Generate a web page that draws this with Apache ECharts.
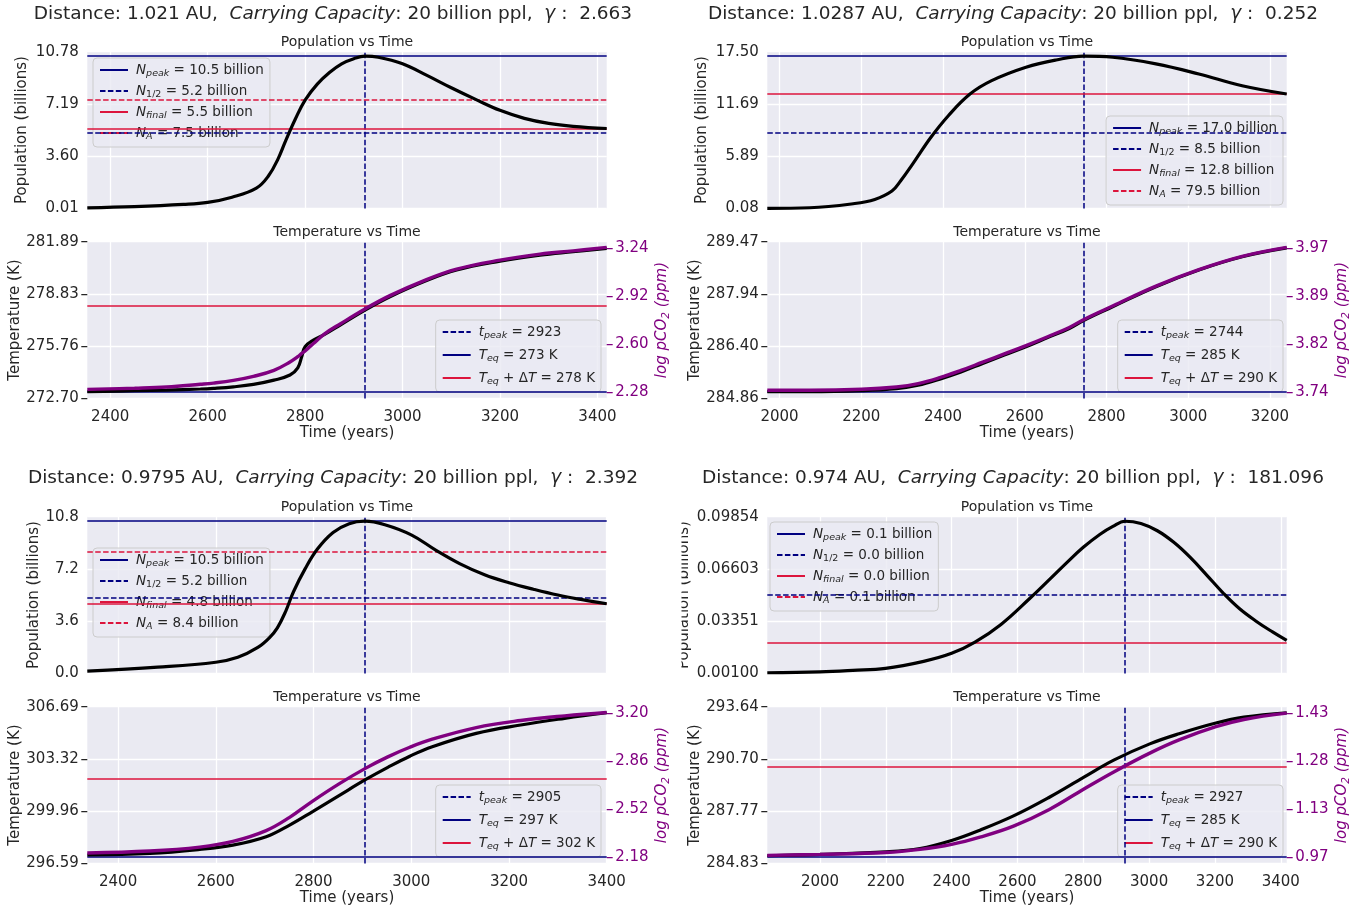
<!DOCTYPE html>
<html>
<head>
<meta charset="utf-8">
<script src="https://cdn.jsdelivr.net/npm/echarts@6/dist/echarts.min.js"></script>
<style>html,body{margin:0;padding:0;background:#fff}#chart{width:1359px;height:910px}</style>
</head>
<body>
<div id="chart"></div>
<script>
// ---------------- DATA ----------------
const distances = ['1.021', '1.0287', '0.9795', '0.974'];
const gammas = ['2.663', '0.252', '2.392', '181.096'];

// Top-left panel
const tlXRange = [2353, 3419];
const tlXTicks = [2400, 2600, 2800, 3000, 3200, 3400];
const tlPopTicks = [0.01, 3.60, 7.19, 10.78];
const tlPopT = [2353, 2450, 2550, 2600, 2650, 2700, 2725, 2745, 2760, 2780, 2800, 2825, 2850, 2875, 2900, 2923, 2950, 3000, 3050, 3100, 3150, 3200, 3250, 3300, 3350, 3419];
const tlPopN = [0.05, 0.13, 0.28, 0.42, 0.78, 1.4, 2.25, 3.45, 4.65, 6.15, 7.45, 8.55, 9.35, 9.95, 10.3, 10.47, 10.4, 9.95, 9.15, 8.3, 7.5, 6.75, 6.2, 5.85, 5.65, 5.5];
const tlLevels = [10.47, 5.23, 5.5, 7.5]; // N_peak, N_1/2, N_final, N_A
const tlTempTicks = [272.70, 275.763, 278.827, 281.89];
const tlCO2Ticks = [2.28, 2.60, 2.92, 3.24];
const tlTempT = [2353, 2450, 2516, 2585, 2612, 2653, 2694, 2736, 2769, 2785, 2793, 2800, 2817, 2840, 2872, 2923, 2974, 3043, 3111, 3200, 3282, 3350, 3419];
const tlTempK = [273.09, 273.15, 273.19, 273.25, 273.29, 273.38, 273.52, 273.77, 274.07, 274.49, 275.14, 275.73, 276.12, 276.45, 277.0, 277.88, 278.66, 279.54, 280.23, 280.75, 281.10, 281.30, 281.50];
const tlCO2 = [2.297, 2.305, 2.313, 2.331, 2.339, 2.357, 2.384, 2.424, 2.48, 2.515, 2.537, 2.553, 2.603, 2.668, 2.734, 2.834, 2.923, 3.022, 3.100, 3.160, 3.200, 3.222, 3.245];
const tlTpeak = 2923, tlTeq = 273.09, tlTeqDT = 278.13;

// Top-right panel
const trXRange = [1970, 3241];
const trXTicks = [2000, 2200, 2400, 2600, 2800, 3000, 3200];
const trPopTicks = [0.08, 5.8867, 11.6933, 17.50];
const trPopT = [1970, 2074, 2180, 2233, 2275, 2296, 2328, 2370, 2413, 2466, 2519, 2603, 2677, 2744, 2815, 2921, 3026, 3132, 3241];
const trPopN = [0.08, 0.15, 0.6, 1.08, 2.01, 3.13, 5.17, 7.96, 10.38, 12.79, 14.28, 15.77, 16.58, 17.0, 16.88, 16.14, 15.02, 13.72, 12.8];
const trLevels = [17.0, 8.5, 12.8, 79.5];
const trTempTicks = [284.862, 286.399, 287.936, 289.473];
const trCO2Ticks = [3.74, 3.8167, 3.8933, 3.97];
const trTempT = [1970, 2074, 2201, 2286, 2339, 2392, 2444, 2497, 2550, 2603, 2656, 2709, 2746, 2815, 2921, 3026, 3132, 3241];
const trTempK = [285.06, 285.06, 285.09, 285.15, 285.25, 285.43, 285.64, 285.89, 286.14, 286.38, 286.65, 286.92, 287.17, 287.56, 288.15, 288.64, 289.03, 289.29];
const trCO2 = [3.7426, 3.7426, 3.7442, 3.7479, 3.7532, 3.7627, 3.7744, 3.7876, 3.8008, 3.8141, 3.8283, 3.8432, 3.8564, 3.8775, 3.9093, 3.9357, 3.9569, 3.9712];
const trTpeak = 2744, trTeq = 285.06, trTeqDT = 290.11;

// Bottom-left panel
const blXRange = [2337, 3400];
const blXTicks = [2400, 2600, 2800, 3000, 3200, 3400];
const blPopTicks = [0.0, 3.6, 7.2, 10.8];
const blPopT = [2337, 2481, 2600, 2645, 2686, 2710, 2726, 2743, 2759, 2783, 2808, 2840, 2873, 2905, 2946, 3000, 3050, 3100, 3150, 3200, 3250, 3300, 3350, 3400];
const blPopN = [0.16, 0.43, 0.77, 1.11, 1.79, 2.47, 3.14, 4.28, 5.63, 7.22, 8.57, 9.71, 10.32, 10.49, 10.25, 9.55, 8.5, 7.55, 6.8, 6.25, 5.8, 5.4, 5.08, 4.8];
const blLevels = [10.49, 5.24, 4.8, 8.4];
const blTempTicks = [296.59, 299.957, 303.323, 306.69];
const blCO2Ticks = [2.18, 2.52, 2.86, 3.20];
const blTempT = [2337, 2465, 2567, 2635, 2703, 2751, 2799, 2853, 2907, 2952, 2997, 3043, 3133, 3224, 3314, 3400];
const blTempK = [297.13, 297.23, 297.49, 297.77, 298.31, 299.06, 299.95, 300.98, 302.0, 302.78, 303.5, 304.11, 304.97, 305.51, 305.94, 306.30];
const blCO2 = [2.208, 2.222, 2.250, 2.290, 2.367, 2.461, 2.578, 2.700, 2.810, 2.890, 2.958, 3.015, 3.098, 3.148, 3.181, 3.205];
const blTpeak = 2905, blTeq = 297.02, blTeqDT = 302.07;

// Bottom-right panel
const brXRange = [1840, 3418];
const brXTicks = [2000, 2200, 2400, 2600, 2800, 3000, 3200, 3400];
const brPopTicks = [0.00100, 0.033513, 0.066027, 0.09854];
const brPopT = [1840, 2000, 2100, 2199, 2315, 2400, 2471, 2550, 2638, 2700, 2750, 2800, 2850, 2890, 2927, 2975, 3025, 3075, 3125, 3175, 3225, 3275, 3325, 3375, 3418];
const brPopN = [0.0014, 0.002, 0.0029, 0.0041, 0.0085, 0.0135, 0.0205, 0.0315, 0.0478, 0.06, 0.07, 0.0795, 0.0875, 0.0925, 0.0957, 0.0943, 0.0898, 0.0826, 0.0732, 0.0622, 0.051, 0.0412, 0.0335, 0.0268, 0.0215];
const brLevels = [0.0957, 0.0478, 0.0215, 0.1];
const brTempTicks = [284.83, 287.7667, 290.7033, 293.64];
const brCO2Ticks = [0.973, 1.1253, 1.2777, 1.430];
const brTempT = [1840, 2000, 2200, 2304, 2400, 2486, 2588, 2697, 2802, 2894, 3002, 3091, 3203, 3288, 3418];
const brTempK = [285.26, 285.34, 285.48, 285.67, 286.12, 286.70, 287.50, 288.55, 289.68, 290.65, 291.55, 292.12, 292.72, 293.05, 293.30];
const brCO2 = [0.978, 0.981, 0.987, 0.997, 1.013, 1.036, 1.071, 1.124, 1.189, 1.244, 1.303, 1.345, 1.387, 1.410, 1.430];
const brTpeak = 2927, brTeq = 285.20, brTeqDT = 290.27;

// ---------------- STYLE / LAYOUT ----------------
const FONT = 'DejaVu Sans';
const INK = '#262626';
const NAVY = '#000080', CRIMSON = '#DC143C', PURPLE = '#800080';
const DASH = [5.5, 2.4];
const BG = '#EAEAF2';
const GW = 519.4, GH = 156.7;
const COLS = [87.3, 767.3];
const POP_TOP = [51.7, 516.7];
const TEMP_TOP = [241.7, 706.7];
const SUP_X = [333, 1013];
const SUP_Y = [14, 478];
const W = 1359;

const panels = [
  {id:'tl', col:0, row:0, xRange:tlXRange, xTicks:tlXTicks, popTicks:tlPopTicks, popDec:2, popT:tlPopT, popN:tlPopN, levels:tlLevels,
   tempTicks:tlTempTicks, co2Ticks:tlCO2Ticks, tempT:tlTempT, tempK:tlTempK, co2:tlCO2, tpeak:tlTpeak, Teq:tlTeq, TeqDT:tlTeqDT,
   popNameGap:57.3, popLegend:{left:93, top:58}, tempLegend:{right:W-601, top:320}},
  {id:'tr', col:1, row:0, xRange:trXRange, xTicks:trXTicks, popTicks:trPopTicks, popDec:2, popT:trPopT, popN:trPopN, levels:trLevels,
   tempTicks:trTempTicks, co2Ticks:trCO2Ticks, tempT:trTempT, tempK:trTempK, co2:trCO2, tpeak:trTpeak, Teq:trTeq, TeqDT:trTeqDT,
   popNameGap:57.3, popLegend:{right:W-1283, top:116}, tempLegend:{right:W-1283, top:320}},
  {id:'bl', col:0, row:1, xRange:blXRange, xTicks:blXTicks, popTicks:blPopTicks, popDec:1, popT:blPopT, popN:blPopN, levels:blLevels,
   tempTicks:blTempTicks, co2Ticks:blCO2Ticks, tempT:blTempT, tempK:blTempK, co2:blCO2, tpeak:blTpeak, Teq:blTeq, TeqDT:blTeqDT,
   popNameGap:44.8, popLegend:{left:93, top:548}, tempLegend:{right:W-601, top:785}},
  {id:'br', col:1, row:1, xRange:brXRange, xTicks:brXTicks, popTicks:brPopTicks, popDec:5, popT:brPopT, popN:brPopN, levels:brLevels,
   tempTicks:brTempTicks, co2Ticks:brCO2Ticks, tempT:brTempT, tempK:brTempK, co2:brCO2, tpeak:brTpeak, Teq:brTeq, TeqDT:brTeqDT,
   popNameGap:75.3, popLegend:{left:770, top:522}, tempLegend:{right:W-1283, top:785}}
];

const zip = (a, b) => a.map((v, i) => [v, b[i]]);
const labelText = {};
const grid = [], xAxis = [], yAxis = [], series = [], legend = [], graphic = [];

const legendRich = {
  n: {fontSize: 13.5, fontFamily: FONT, color: INK},
  i: {fontSize: 13.5, fontFamily: FONT, color: INK, fontStyle: 'italic'},
  s: {fontSize: 9.5, fontFamily: FONT, color: INK, fontStyle: 'italic', padding: [8, 0, 0, 0]},
  u: {fontSize: 9.5, fontFamily: FONT, color: INK, padding: [8, 0, 0, 0]}
};

function hlineSeries(name, xi, yi, value, color, type, range, z) {
  const inRange = value >= range[0] && value <= range[1];
  return {
    type: 'line', name, xAxisIndex: xi, yAxisIndex: yi, data: [], symbol: 'none', silent: true, z,
    lineStyle: {color, width: 1.5, type},
    itemStyle: {color},
    markLine: inRange ? {silent: true, symbol: ['none', 'none'], label: {show: false}, animation: false,
      lineStyle: {color, width: 1.5, type}, emphasis: {disabled: true}, data: [{yAxis: value}]} : undefined
  };
}

const SMOOTH = 0.4;

panels.forEach((p, i) => {
  const left = COLS[p.col];
  const gP = 2 * i, gT = 2 * i + 1;
  const yP = 3 * i, yT = 3 * i + 1, yC = 3 * i + 2;
  grid.push({left, top: POP_TOP[p.row], width: GW, height: GH, show: true, backgroundColor: BG, borderWidth: 0, outerBoundsMode: 'none'});
  grid.push({left, top: TEMP_TOP[p.row], width: GW, height: GH, show: true, backgroundColor: BG, borderWidth: 0, outerBoundsMode: 'none'});

  [gP, gT].forEach((g, k) => {
    xAxis.push({
      type: 'value', gridIndex: g, min: p.xRange[0], max: p.xRange[1],
      axisLine: {show: false},
      axisTick: {show: false, customValues: p.xTicks},
      axisLabel: {show: k === 1, customValues: p.xTicks, formatter: v => String(Math.round(v)),
        color: INK, fontSize: 15, fontFamily: FONT, margin: 11.5},
      splitLine: {show: true, lineStyle: {color: '#ffffff', width: 1.3}},
      name: k === 1 ? 'Time (years)' : '', nameLocation: 'middle', nameGap: 27,
      nameTextStyle: {color: INK, fontSize: 15, fontFamily: FONT}
    });
  });

  const pt = p.popTicks;
  yAxis.push({
    type: 'value', gridIndex: gP, min: pt[0], max: pt[3],
    axisLine: {show: false},
    axisTick: {show: false, customValues: pt},
    axisLabel: {customValues: pt, formatter: v => v.toFixed(p.popDec), color: INK, fontSize: 15, fontFamily: FONT, margin: 8.5},
    splitLine: {show: true, lineStyle: {color: '#ffffff', width: 1.3}},
    name: 'Population (billions)', nameLocation: 'middle', nameGap: p.popNameGap, nameRotate: 90,
    nameTextStyle: {color: INK, fontSize: 15, fontFamily: FONT}
  });
  const tt = p.tempTicks;
  yAxis.push({
    type: 'value', gridIndex: gT, min: tt[0], max: tt[3],
    axisLine: {show: false},
    axisTick: {show: true, length: 6, lineStyle: {color: INK, width: 1.25}, customValues: tt},
    axisLabel: {customValues: tt, formatter: v => v.toFixed(2), color: INK, fontSize: 15, fontFamily: FONT, margin: 8.5},
    splitLine: {show: true, lineStyle: {color: '#ffffff', width: 1.3}},
    name: 'Temperature (K)', nameLocation: 'middle', nameGap: 64.8, nameRotate: 90,
    nameTextStyle: {color: INK, fontSize: 15, fontFamily: FONT}
  });
  const ct = p.co2Ticks;
  const m = 0.045 * (ct[3] - ct[0]);
  yAxis.push({
    type: 'value', gridIndex: gT, position: 'right', min: ct[0] - m, max: ct[3] + m,
    axisLine: {show: false},
    axisTick: {show: true, length: 6, lineStyle: {color: PURPLE, width: 1.25}, customValues: ct},
    axisLabel: {customValues: ct, formatter: v => v.toFixed(2), color: PURPLE, fontSize: 15, fontFamily: FONT, margin: 8.5},
    splitLine: {show: false},
    name: '{a|log pCO}{b|2}{a| (ppm)}', nameLocation: 'middle', nameGap: 45.8, nameRotate: 90,
    nameTextStyle: {color: PURPLE, fontSize: 15, fontFamily: FONT, fontStyle: 'italic',
      rich: {a: {color: PURPLE, fontSize: 15, fontFamily: FONT, fontStyle: 'italic'},
             b: {color: PURPLE, fontSize: 10.5, fontFamily: FONT, padding: [8, 0, 0, 0]}}}
  });

  // population curve + t_peak vertical
  series.push({
    type: 'line', name: p.id + '_pop', xAxisIndex: gP, yAxisIndex: yP, data: zip(p.popT, p.popN),
    symbol: 'none', smooth: SMOOTH, silent: true, z: 5,
    lineStyle: {color: '#000000', width: 3.2},
    markLine: {silent: true, symbol: ['none', 'none'], label: {show: false}, animation: false,
      lineStyle: {color: NAVY, width: 1.5, type: DASH}, data: [{xAxis: p.tpeak}]}
  });
  const L = p.levels;
  const names = ['Npeak', 'Nhalf', 'Nfinal', 'NA'].map(s => p.id + '_' + s);
  labelText[names[0]] = `{i|N}{s|peak}{n| = ${L[0].toFixed(1)} billion}`;
  labelText[names[1]] = `{i|N}{u|1/2}{n| = ${L[1].toFixed(1)} billion}`;
  labelText[names[2]] = `{i|N}{s|final}{n| = ${L[2].toFixed(1)} billion}`;
  labelText[names[3]] = `{i|N}{s|A}{n| = ${L[3].toFixed(1)} billion}`;
  series.push(hlineSeries(names[0], gP, yP, L[0], NAVY, 'solid', [pt[0], pt[3]], 3));
  series.push(hlineSeries(names[1], gP, yP, L[1], NAVY, DASH, [pt[0], pt[3]], 3));
  series.push(hlineSeries(names[2], gP, yP, L[2], CRIMSON, 'solid', [pt[0], pt[3]], 3));
  series.push(hlineSeries(names[3], gP, yP, L[3], CRIMSON, DASH, [pt[0], pt[3]], 3));

  // temperature + CO2 curves
  series.push({
    type: 'line', name: p.id + '_T', xAxisIndex: gT, yAxisIndex: yT, data: zip(p.tempT, p.tempK),
    symbol: 'none', smooth: SMOOTH, silent: true, z: 5,
    lineStyle: {color: '#000000', width: 3.2}
  });
  series.push({
    type: 'line', name: p.id + '_co2', xAxisIndex: gT, yAxisIndex: yC, data: zip(p.tempT, p.co2),
    symbol: 'none', smooth: SMOOTH, silent: true, z: 6,
    lineStyle: {color: PURPLE, width: 3.4}
  });
  const tn = ['tpeak', 'Teq', 'TeqDT'].map(s => p.id + '_' + s);
  labelText[tn[0]] = `{i|t}{s|peak}{n| = ${p.tpeak}}`;
  labelText[tn[1]] = `{i|T}{s|eq}{n| = ${Math.round(p.Teq)} K}`;
  labelText[tn[2]] = `{i|T}{s|eq}{n| + Δ}{i|T}{n| = ${Math.round(p.TeqDT)} K}`;
  series.push({
    type: 'line', name: tn[0], xAxisIndex: gT, yAxisIndex: yT, data: [], symbol: 'none', silent: true, z: 3,
    lineStyle: {color: NAVY, width: 1.5, type: DASH}, itemStyle: {color: NAVY},
    markLine: {silent: true, symbol: ['none', 'none'], label: {show: false}, animation: false,
      lineStyle: {color: NAVY, width: 1.5, type: DASH}, data: [{xAxis: p.tpeak}]}
  });
  series.push(hlineSeries(tn[1], gT, yT, p.Teq, NAVY, 'solid', [tt[0], tt[3]], 3));
  series.push(hlineSeries(tn[2], gT, yT, p.TeqDT, CRIMSON, 'solid', [tt[0], tt[3]], 3));

  const legendBase = {
    orient: 'vertical', selectedMode: false, itemWidth: 28, itemHeight: 14,
    padding: [5, 6, 5, 6], backgroundColor: 'rgba(234,234,242,0.8)', borderColor: '#cccccc', borderWidth: 1, borderRadius: 4,
    itemStyle: {opacity: 0, color: 'rgba(0,0,0,0)', borderWidth: 0},
    formatter: name => labelText[name],
    textStyle: {color: INK, fontSize: 13.5, fontFamily: FONT, padding: [0, 0, 0, 3], rich: legendRich}
  };
  legend.push(Object.assign({}, legendBase, p.popLegend, {data: names, itemGap: 5}));
  legend.push(Object.assign({}, legendBase, p.tempLegend, {data: tn, itemGap: 7}));

  // titles
  graphic.push({
    type: 'text', silent: true,
    style: {x: SUP_X[p.col], y: SUP_Y[p.row], align: 'center', verticalAlign: 'middle', textAlign: 'center', textVerticalAlign: 'middle',
      text: `{n|Distance: ${distances[i]} AU,  }{i|Carrying Capacity}{n|: 20 billion ppl,  }{i|γ}{n| :  ${gammas[i]}}`,
      rich: {n: {fontSize: 18.5, fontFamily: FONT, fill: INK, color: INK}, i: {fontSize: 18.5, fontFamily: FONT, fill: INK, color: INK, fontStyle: 'italic'}}}
  });
  graphic.push({
    type: 'text', silent: true,
    style: {x: left + GW / 2, y: POP_TOP[p.row] - 9.5, align: 'center', verticalAlign: 'middle', textAlign: 'center', textVerticalAlign: 'middle',
      text: 'Population vs Time', fontSize: 14, fontFamily: FONT, fill: INK}
  });
  graphic.push({
    type: 'text', silent: true,
    style: {x: left + GW / 2, y: TEMP_TOP[p.row] - 9, align: 'center', verticalAlign: 'middle', textAlign: 'center', textVerticalAlign: 'middle',
      text: 'Temperature vs Time', fontSize: 14, fontFamily: FONT, fill: INK}
  });
});

// the bottom-right population axis name is clipped at the panel edge in the original
graphic.push({type: 'rect', silent: true, z: 100, shape: {x: 660, y: 500, width: 21.5, height: 190}, style: {fill: '#ffffff'}});

const chart = echarts.init(document.getElementById('chart'), null, {renderer: 'canvas'});
chart.setOption({
  animation: false,
  backgroundColor: '#ffffff',
  textStyle: {fontFamily: FONT},
  grid, xAxis, yAxis, series, legend, graphic
});
</script>
</body>
</html>
